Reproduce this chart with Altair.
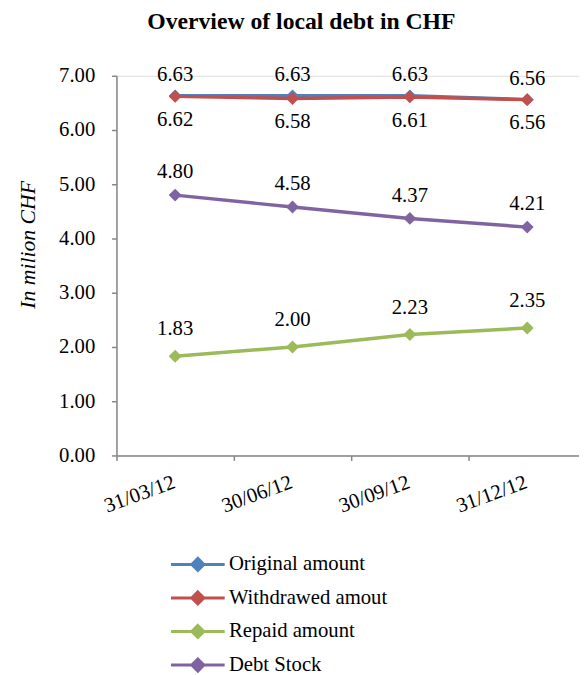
import altair as alt
import pandas as pd

dates = ["31/03/12", "30/06/12", "30/09/12", "31/12/12"]
series = ["Original amount", "Withdrawed amout", "Repaid amount", "Debt Stock"]
original = [6.63, 6.63, 6.63, 6.56]
withdrawed = [6.62, 6.58, 6.61, 6.56]
repaid = [1.83, 2.00, 2.23, 2.35]
debt_stock = [4.80, 4.58, 4.37, 4.21]
colors = ["#4F81BD", "#C0504D", "#9BBB59", "#8064A2"]
y_ticks = [0, 1, 2, 3, 4, 5, 6, 7]

rows = []
for name, vals in zip(series, [original, withdrawed, repaid, debt_stock]):
    for i, (d, v) in enumerate(zip(dates, vals)):
        rows.append({"series": name, "idx": i, "date": d, "value": v})
df = pd.DataFrame(rows)

FONT = "Times New Roman, Liberation Serif, DejaVu Serif, serif"
FS = 21
W, H = 469, 385
STEP = 119.0
x_max = -0.5 + W / STEP

label_expr = "[" + ",".join("'%s'" % d for d in dates) + "][datum.value]"

x_enc = alt.X(
    "idx:Q",
    scale=alt.Scale(domain=[-0.5, x_max], nice=False, zero=False),
    axis=alt.Axis(
        values=list(range(len(dates))),
        labelExpr=label_expr,
        tickOffset=-STEP / 2,
        labelOffset=STEP / 2 - 5,
        labelAngle=340,
        labelAlign="right",
        labelBaseline="top",
        labelPadding=11,
        labelFontSize=FS,
        labelFont=FONT,
        labelColor="#000000",
        tickSize=5,
        tickColor="#868686",
        domainColor="#868686",
        domainWidth=1.5,
        tickWidth=1.5,
        grid=False,
        title=None,
    ),
)
y_enc = alt.Y(
    "value:Q",
    scale=alt.Scale(domain=[0, 7], nice=False),
    axis=alt.Axis(
        values=y_ticks,
        format=".2f",
        labelFontSize=FS,
        labelFont=FONT,
        labelColor="#000000",
        labelPadding=17,
        tickSize=5,
        tickColor="#868686",
        domainColor="#868686",
        domainWidth=1.5,
        tickWidth=1.5,
        grid=False,
        title="In milion CHF",
        titleFont=FONT,
        titleFontSize=22,
        titleFontStyle="italic",
        titleFontWeight="normal",
        titleColor="#000000",
        titleX=-90,
        titleY=171,
        titleBaseline="middle",
    ),
)
color_enc = alt.Color(
    "series:N",
    scale=alt.Scale(domain=series, range=colors),
    legend=alt.Legend(
        title=None,
        orient="none",
        legendX=64,
        legendY=477,
        direction="vertical",
        symbolType="M-1.6,0H1.6M0,-0.36L0.36,0L0,0.36L-0.36,0Z",
        symbolSize=1156,
        symbolStrokeWidth=3,
        labelFont=FONT,
        labelFontSize=FS,
        labelColor="#000000",
        labelOffset=13,
        labelLimit=400,
        rowPadding=3,
    ),
)

base = alt.Chart(df)
lines = base.mark_line(strokeWidth=3.5).encode(x=x_enc, y=y_enc, color=color_enc, order="idx:Q")
points = base.mark_point(shape="diamond", filled=True, size=170, opacity=1).encode(
    x="idx:Q", y="value:Q", color=alt.Color("series:N", legend=None)
)

def labels(names, dy):
    return base.transform_filter(
        alt.FieldOneOfPredicate(field="series", oneOf=names)
    ).mark_text(font=FONT, fontSize=FS, dy=dy, color="#000000").encode(
        x="idx:Q", y="value:Q", text=alt.Text("value:Q", format=".2f")
    )

lab_orig = labels(["Original amount"], -21)
lab_with = labels(["Withdrawed amout"], 24)
lab_rep = labels(["Repaid amount"], -27)
lab_debt = labels(["Debt Stock"], -23)

chart = alt.layer(lines, points, lab_orig, lab_with, lab_rep, lab_debt).properties(
    width=W,
    height=H,
    autosize=alt.AutoSizeParams(type="none"),
    padding={"left": 110, "top": 64, "right": 0, "bottom": 226},
    title=alt.TitleParams(
        "Overview of local debt in CHF",
        font=FONT,
        fontSize=24,
        fontWeight="bold",
        color="#000000",
        anchor="middle",
        dx=-47,
        offset=31,
    ),
).configure_view(stroke=None).configure(background="#ffffff", font=FONT)

chart.save("out.html", embed_options={"renderer": "svg", "actions": False})
